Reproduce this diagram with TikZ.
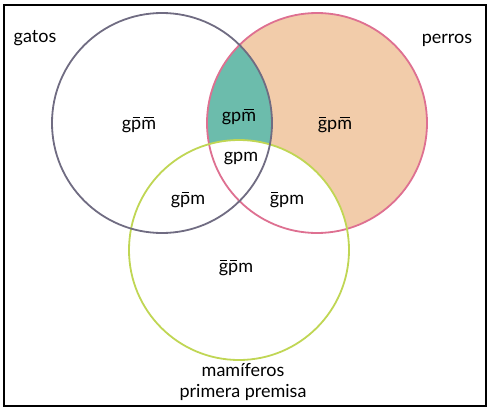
\documentclass[tikz,border=0pt]{standalone}
\usepackage{fontspec}
\setmainfont{Lato}
\usetikzlibrary{positioning}

\definecolor{gatosline}{RGB}{112,108,130}
\definecolor{perrosline}{RGB}{222,112,145}
\definecolor{mamline}{RGB}{192,214,84}
\definecolor{peach}{RGB}{242,204,170}
\definecolor{teal}{RGB}{108,188,172}

% short bar over a single letter
\newcommand{\nega}[1]{\setbox0\hbox{#1}\rlap{\hspace{0.15\wd0}\rule[1.3ex]{0.7\wd0}{1pt}}#1}

\tikzset{
  set/.style    = {line width=1.8pt},
  region/.style = {font=\fontsize{18}{20}\selectfont, inner sep=1pt},
  setname/.style= {font=\fontsize{18}{21}\selectfont, align=center, inner sep=1pt}
}

\begin{document}
\begin{tikzpicture}[x=1pt, y=-1pt]
  \useasboundingbox (0,0) rectangle (489,410);
  \draw[line width=1.4pt] (4,5) rectangle (486,406);

  % shaded parts of perros
  \fill[peach] (317,123) circle (110pt);
  \begin{scope}
    \clip (317,123) circle (110pt);
    \fill[teal] (162,123) circle (110pt);
  \end{scope}
  \fill[white] (239,250) circle (110pt);

  % the three sets
  \draw[set, perrosline] (317,123) circle (110pt);
  \draw[set, mamline]    (239,250) circle (110pt);
  \draw[set, gatosline]  (162,123) circle (110pt);

  % set names
  \node[setname] (gatos)  at (35,38)  {gatos};
  \node[setname] (perros) at (447,40) {perros};
  \node[setname] (mam)    at (243,382) {mamíferos\\primera premisa};

  % regions
  \node[region] (r1) at (139,125) {g\nega{p}\nega{m}};
  \node[region] (r2) at (239,117) {gp\nega{m}};
  \node[region] (r3) at (335,125) {\nega{g}p\nega{m}};
  \node[region] (r4) at (241,158) {gpm};
  \node[region] (r5) at (188,200) {g\nega{p}m};
  \node[region] (r6) at (287,200) {\nega{g}pm};
  \node[region] (r7) at (236,268) {\nega{g}\nega{p}m};
\end{tikzpicture}
\end{document}
